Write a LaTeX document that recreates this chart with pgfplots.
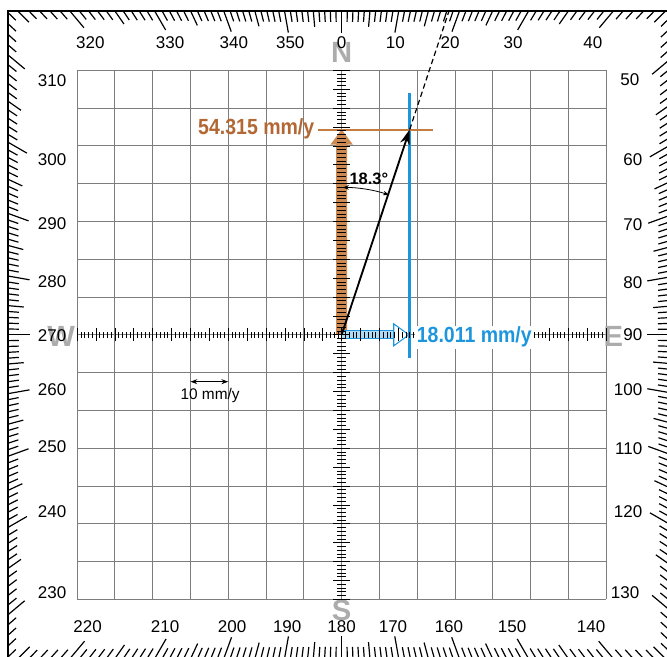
\documentclass[border=0pt]{standalone}
\usepackage{pgfplots}
\pgfplotsset{compat=1.18}
\usepackage{graphicx}
\usepackage{fontspec}
\setmainfont{Liberation Sans}
\usetikzlibrary{arrows.meta}
\definecolor{brownfill}{RGB}{204,138,82}
\definecolor{browntxt}{RGB}{178,104,52}
\definecolor{brownline}{RGB}{196,124,64}
\definecolor{bluec}{RGB}{30,150,222}
\definecolor{gridc}{RGB}{125,125,125}
\definecolor{letterc}{RGB}{172,172,172}
\newcommand{\lab}{\fontsize{12.8}{14}\selectfont}
\begin{document}
\begin{tikzpicture}
% ---------- decoration (1 unit = 1 mm = data unit) ----------
\begin{scope}[x=1mm,y=1mm]
  % grid
  \draw[gridc, line width=0.7pt] (-70,-70) grid[step=10] (70,70);
  % compass ticks
  \foreach \a in {0,...,359}{
    \pgfmathsetmacro\myS{sin(\a)}
    \pgfmathsetmacro\myC{cos(\a)}
    \pgfmathsetmacro\myTx{(\myS>=0 ? 86.6 : 88.3)/max(abs(\myS),0.01)}
    \pgfmathsetmacro\myTy{(\myC>=0 ? 85.7 : 85.5)/max(abs(\myC),0.01)}
    \pgfmathsetmacro\myT{min(\myTx,\myTy)}
    \pgfmathsetmacro\myL{mod(\a,10)==0 ? 5.8 : (mod(\a,5)==0 ? 4.2 : 2.9)}
    \draw[line width=0.9pt] ({\myT*\myS},{\myT*\myC}) -- ({(\myT-\myL)*\myS},{(\myT-\myL)*\myC});
  }
  \draw[line width=1.9pt] (-88.3,-85.5) rectangle (86.6,85.7);
  % big letters
  \begin{scope}[font=\bfseries\fontsize{22}{24}\selectfont, text=letterc]
    \node at (0,74.6) {N};
    \node at (0,-73.0) {S};
    \node at (-74.2,-0.5) {W};
    \node at (71.9,-0.5) {E};
  \end{scope}
  % compass labels
  \begin{scope}[font=\lab]
    \node at (-66.5,77.2) {320};
    \node at (-45.4,77.2) {330};
    \node at (-28.5,77.2) {340};
    \node at (-13.6,77.2) {350};
    \node at (0,77.2) {0};
    \node at (14.2,77.2) {10};
    \node at (28.7,77.2) {20};
    \node at (45.4,77.2) {30};
    \node at (66.5,77.2) {40};
    \node[anchor=east] at (80.0,67.5) {50};
    \node[anchor=east] at (80.8,46.3) {60};
    \node[anchor=east] at (80.8,29.1) {70};
    \node[anchor=east] at (80.8,13.8) {80};
    \node[anchor=east] at (80.8,0) {90};
    \node[anchor=east] at (80.8,-14.6) {100};
    \node[anchor=east] at (80.8,-30.0) {110};
    \node[anchor=east] at (80.8,-46.8) {120};
    \node[anchor=east] at (80.0,-68.3) {130};
    \node[anchor=west] at (-81.6,67.3) {310};
    \node[anchor=west] at (-81.6,46.3) {300};
    \node[anchor=west] at (-81.6,29.4) {290};
    \node[anchor=west] at (-81.6,14.0) {280};
    \node[anchor=west] at (-81.6,-0.1) {270};
    \node[anchor=west] at (-81.6,-14.6) {260};
    \node[anchor=west] at (-81.6,-29.6) {250};
    \node[anchor=west] at (-81.6,-46.8) {240};
    \node[anchor=west] at (-81.6,-68.1) {230};
    \node at (-67.2,-77.2) {220};
    \node at (-46.7,-77.2) {210};
    \node at (-29.0,-77.2) {200};
    \node at (-14.4,-77.2) {190};
    \node at (0,-77.2) {180};
    \node at (13.6,-77.2) {170};
    \node at (28.4,-77.2) {160};
    \node at (45.1,-77.2) {150};
    \node at (66.0,-77.2) {140};
  \end{scope}
\end{scope}
% ---------- data ----------
\begin{axis}[x=1mm, y=1mm, xmin=-90.4, xmax=86.1, ymin=-85.2, ymax=88.6,
  hide axis, anchor=origin, at={(0,0)}, clip=false]
  % north component (brown arrow)
  \addplot[draw=none, fill=brownfill] coordinates {(-1.45,0) (1.45,0) (1.45,50.3) (3.0,50.3) (0,54.315) (-3.0,50.3) (-1.45,50.3)} -- cycle;
  % east component (blue arrow)
  \addplot[draw=bluec, line width=0.8pt, fill=bluec!35] coordinates {(0,-1.05) (13.8,-1.05) (13.8,1.05) (0,1.05)} -- cycle;
  \addplot[draw=bluec, line width=0.8pt, fill=white] coordinates {(13.8,-2.9) (17.8,0) (13.8,2.9)} -- cycle;
  % reference lines
  \addplot[bluec, line width=1.8pt] coordinates {(18.011,-6.2) (18.011,64.0)};
  \addplot[brownline, line width=1.5pt] coordinates {(-6.2,54.315) (24.2,54.315)};
  % resultant vector
  \addplot[black, line width=1.4pt, -{Stealth[length=4mm,width=2.6mm]}] coordinates {(0,0) (18.011,54.315)};
  \addplot[black, line width=0.9pt, dash pattern=on 4pt off 2.5pt] coordinates {(18.011,54.315) (28.42,85.7)};
  % labels
  \node[anchor=east, text=browntxt, font=\bfseries\fontsize{16.5}{18}\selectfont] at (axis cs:-6.0,54.6) {\scalebox{0.89}[1]{54.315 mm/y}};
  \node[font=\bfseries\fontsize{12.4}{14}\selectfont] at (axis cs:7.2,41.2) {18.3°};
  \node[font=\fontsize{11.6}{13}\selectfont] at (axis cs:-34.8,-16.0) {10 mm/y};
\end{axis}
% ---------- overlays ----------
\begin{scope}[x=1mm,y=1mm]
  \foreach \v in {-70,...,70}{
    \pgfmathsetmacro\myH{mod(\v,5)==0 ? 2.2 : 1.1}
    \draw[line width=0.5pt] (-\myH,\v) -- (\myH,\v);
    \pgfmathsetmacro\myW{mod(\v,5)==0 ? 1.7 : 0.85}
    \draw[line width=0.5pt] (\v,-\myW) -- (\v,\myW);
  }
  \node[anchor=west, text=bluec, fill=white, inner xsep=1.5pt, inner ysep=1pt, font=\bfseries\fontsize{16.5}{18}\selectfont] at (19.3,-0.6) {\scalebox{0.89}[1]{18.011 mm/y}};
  \draw[line width=0.6pt, {Stealth[length=1.6mm,width=1.2mm]}-{Stealth[length=1.6mm,width=1.2mm]}] (0.3,39) arc[start angle=90, end angle=71.7, radius=39];
  \draw[line width=0.8pt, {Stealth[length=1.8mm,width=1.3mm]}-{Stealth[length=1.8mm,width=1.3mm]}] (-40,-12.4) -- (-30,-12.4);
  \pgfresetboundingbox
  \path[use as bounding box] (-90.4,-85.2) rectangle (86.1,88.6);
\end{scope}
\end{tikzpicture}
\end{document}
